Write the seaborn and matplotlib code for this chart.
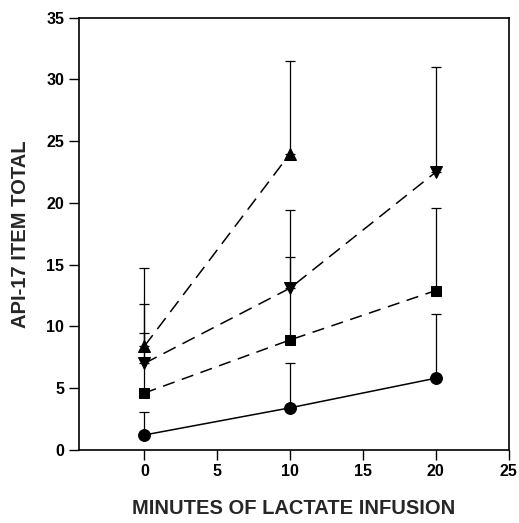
import numpy as np
import pandas as pd
import matplotlib
matplotlib.use("Agg")
import matplotlib.pyplot as plt
import seaborn as sns

# Data
minutes = [0, 10, 20]
circle_mean = [1.2, 3.4, 5.8]
circle_top = [3.1, 7.0, 11.0]
square_mean = [4.6, 8.9, 12.9]
square_top = [9.5, 15.6, 19.6]
down_mean = [7.0, 13.1, 22.5]
down_top = [11.8, 19.4, 31.0]
up_minutes = [0, 10]
up_mean = [8.4, 24.0]
up_top = [14.7, 31.5]

sns.set_theme(style="ticks")
plt.rcParams['font.family'] = ['Liberation Sans', 'DejaVu Sans']

fig = plt.figure(figsize=(5.19, 5.23), dpi=100)
ax = fig.add_axes([0.152, 0.140, 0.828, 0.826])

series = [
    (up_minutes, up_mean, up_top, '^', (0, (9, 5)), 8),
    (minutes, down_mean, down_top, 'v', (0, (9, 5)), 8.5),
    (minutes, square_mean, square_top, 's', (0, (8, 5)), 7),
    (minutes, circle_mean, circle_top, 'o', '-', 8.5),
]

for xs, ys, tops, mk, ls, ms in series:
    df = pd.DataFrame({'x': xs, 'y': ys})
    upper = np.array(tops) - np.array(ys)
    ax.errorbar(xs, ys, yerr=[np.zeros(len(ys)), upper], fmt='none',
                ecolor='black', elinewidth=0.9, capsize=3.5, capthick=0.9, zorder=2)
    sns.lineplot(data=df, x='x', y='y', ax=ax, color='black', marker=mk,
                 markersize=ms, markeredgecolor='black', linewidth=1.1,
                 linestyle=ls, zorder=3)

ax.set_xlim(-4.5, 25)
ax.set_ylim(0, 35)
ax.set_xticks([0, 5, 10, 15, 20, 25])
ax.set_yticks([0, 5, 10, 15, 20, 25, 30, 35])
ax.tick_params(direction='out', length=7, width=1, colors='black', labelsize=11.5)
for lab in ax.get_xticklabels() + ax.get_yticklabels():
    lab.set_fontweight('bold')
for sp in ax.spines.values():
    sp.set_visible(True)
    sp.set_linewidth(1.2)
    sp.set_color('black')

ax.set_xlabel('MINUTES OF LACTATE INFUSION', fontsize=14.5, fontweight='bold', labelpad=14)
ax.set_ylabel('API-17 ITEM TOTAL', fontsize=14.5, fontweight='bold', labelpad=12)

fig.savefig('out.png', dpi=100)
